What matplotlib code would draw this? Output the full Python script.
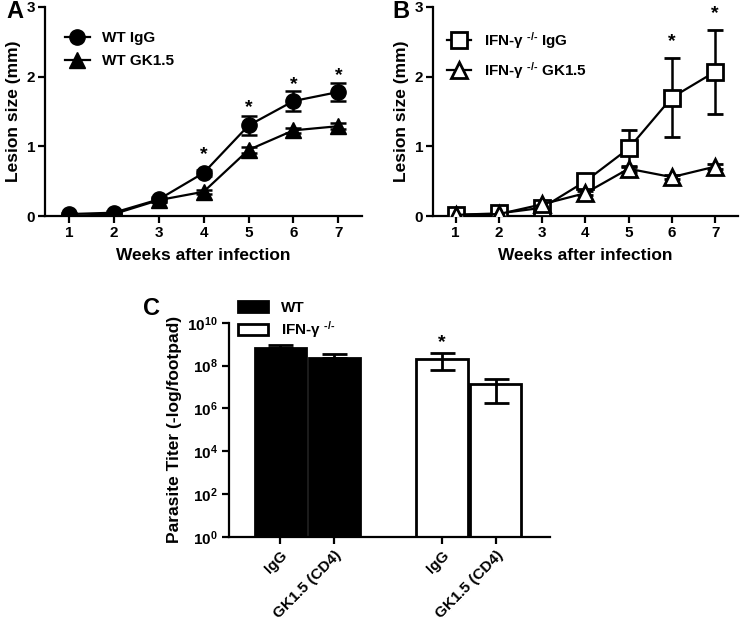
import numpy as np
import matplotlib
matplotlib.use("Agg")
import matplotlib.pyplot as plt
from matplotlib.patches import Rectangle

plt.rcParams['font.family'] = ['Liberation Sans', 'DejaVu Sans']
plt.rcParams['font.weight'] = 'bold'
plt.rcParams['mathtext.fontset'] = 'custom'
plt.rcParams['mathtext.rm'] = 'Liberation Sans:bold'
plt.rcParams['mathtext.bf'] = 'Liberation Sans:bold'
plt.rcParams['mathtext.it'] = 'Liberation Sans:bold'
plt.rcParams['axes.linewidth'] = 1.6

# panel A / B data
weeks = [1, 2, 3, 4, 5, 6, 7]
wt_igg = [0.03, 0.05, 0.24, 0.62, 1.30, 1.65, 1.78]
wt_igg_err = [0.02, 0.02, 0.03, 0.04, 0.13, 0.14, 0.13]
wt_gk = [0.0, 0.03, 0.23, 0.35, 0.95, 1.23, 1.29]
wt_gk_err = [0.01, 0.01, 0.02, 0.03, 0.04, 0.04, 0.04]
wt_stars = [4, 5, 6, 7]
wt_star_y = [0.88, 1.55, 1.88, 2.02]

ko_igg = [0.02, 0.04, 0.12, 0.50, 0.97, 1.70, 2.07]
ko_igg_err = [0.01, 0.02, 0.03, 0.05, 0.27, 0.56, 0.60]
ko_gk = [0.02, 0.03, 0.17, 0.33, 0.68, 0.56, 0.71]
ko_gk_err = [0.01, 0.01, 0.02, 0.03, 0.04, 0.03, 0.04]
ko_stars = [6, 7]
ko_star_y = [2.50, 2.91]

# panel C data
bar_labels = ['IgG', 'GK1.5 (CD4)', 'IgG', 'GK1.5 (CD4)']
bar_pos = [0, 1, 3, 4]
titer = [6.8e8, 2.3e8, 2.1e8, 1.35e7]
titer_hi = [8.7e8, 3.5e8, 4.0e8, 2.4e7]
titer_lo = [6.8e8, 2.3e8, 5.9e7, 1.8e6]
bar_fill = ['black', 'black', 'white', 'white']

KO = r'IFN-γ $^{\text{-/-}}$'

fig = plt.figure(figsize=(7.5, 6.23), dpi=100)

def lesion_axes(rect):
    ax = fig.add_axes(rect)
    ax.spines['top'].set_visible(False)
    ax.spines['right'].set_visible(False)
    ax.set_xlim(0.47, 7.53)
    ax.set_ylim(0, 3)
    ax.set_xticks(weeks)
    ax.set_yticks([0, 1, 2, 3])
    ax.tick_params(width=1.6, length=5, labelsize=11, pad=2)
    ax.set_xlabel('Weeks after infection', fontsize=12.5, fontweight='bold', labelpad=6)
    ax.set_ylabel('Lesion size (mm)', fontsize=12.5, fontweight='bold', labelpad=4)
    return ax

# A
axA = lesion_axes([0.06, 0.653, 0.423, 0.336])
axA.errorbar(weeks, wt_igg, yerr=wt_igg_err, color='black', marker='o', ms=11,
             lw=1.6, capsize=6, elinewidth=1.8, capthick=1.8, label='WT IgG', zorder=3)
axA.errorbar(weeks, wt_gk, yerr=wt_gk_err, color='black', marker='^', ms=11,
             lw=1.6, capsize=6, elinewidth=1.8, capthick=1.8, label='WT GK1.5', zorder=3)
for w, y in zip(wt_stars, wt_star_y):
    axA.text(w, y, '*', ha='center', va='center', fontsize=14, fontweight='bold')
hA, lA = axA.get_legend_handles_labels()
axA.legend([h[0] for h in hA], lA, loc='upper left', bbox_to_anchor=(0.087, 0.95),
           bbox_transform=fig.transFigure, borderpad=0, borderaxespad=0,
           frameon=False, fontsize=11, handlelength=1.6, labelspacing=0.6)
fig.text(0.008, 0.982, 'A', fontsize=17, fontweight='bold', va='center')

# B
axB = lesion_axes([0.577, 0.653, 0.407, 0.336])
axB.errorbar(weeks, ko_igg, yerr=ko_igg_err, color='black', marker='s', ms=12, mfc='white',
             mew=2, lw=1.6, capsize=6, elinewidth=1.8, capthick=1.8,
             label=KO + ' IgG', zorder=3)
axB.errorbar(weeks, ko_gk, yerr=ko_gk_err, color='black', marker='^', ms=12, mfc='white',
             mew=2, lw=1.6, capsize=6, elinewidth=1.8, capthick=1.8,
             label=KO + ' GK1.5', zorder=3)
for w, y in zip(ko_stars, ko_star_y):
    axB.text(w, y, '*', ha='center', va='center', fontsize=14, fontweight='bold')
hB, lB = axB.get_legend_handles_labels()
axB.legend([h[0] for h in hB], lB, loc='upper left', bbox_to_anchor=(0.596, 0.952),
           bbox_transform=fig.transFigure, borderpad=0, borderaxespad=0,
           frameon=False, fontsize=11, handlelength=1.6, labelspacing=0.6)
fig.text(0.523, 0.982, 'B', fontsize=17, fontweight='bold', va='center')

# C
axC = fig.add_axes([0.305, 0.138, 0.428, 0.344])
axC.spines['top'].set_visible(False)
axC.spines['right'].set_visible(False)
axC.set_yscale('log')
axC.set_ylim(1, 1e10)
axC.set_xlim(-0.96, 5.0)
lo = np.array(titer) - np.array(titer_lo)
hi = np.array(titer_hi) - np.array(titer)
axC.bar(bar_pos, titer, width=0.95, color=bar_fill, edgecolor='black', linewidth=2, zorder=2)
axC.errorbar(bar_pos, titer, yerr=[lo, hi], fmt='none', ecolor='black',
             elinewidth=2, capsize=9, capthick=2, zorder=3)
axC.text(3, 1.2e9, '*', ha='center', va='center', fontsize=14, fontweight='bold')
axC.set_yticks([10.0**k for k in range(0, 11, 2)])
axC.set_yticklabels([r'$10^{%d}$' % k for k in range(0, 11, 2)])
axC.minorticks_off()
axC.set_xticks(bar_pos)
axC.set_xticklabels(bar_labels, rotation=45, ha='right', rotation_mode='anchor')
axC.tick_params(width=1.6, length=5, labelsize=11, pad=3)
axC.set_ylabel('Parasite Titer (-log/footpad)', fontsize=12.5, fontweight='bold', labelpad=4)
# legend boxes
axC.legend([Rectangle((0, 0), 1, 1, fc='black', ec='black', lw=2),
            Rectangle((0, 0), 1, 1, fc='white', ec='black', lw=2)],
           ['WT', KO], loc='upper left', bbox_to_anchor=(0.317, 0.517),
           bbox_transform=fig.transFigure, borderpad=0, borderaxespad=0,
           frameon=False, fontsize=11, handlelength=2.0, handleheight=0.7,
           labelspacing=0.3)
fig.text(0.19, 0.505, 'C', fontsize=17, fontweight='bold', va='center')

fig.savefig('out.png', dpi=100)
